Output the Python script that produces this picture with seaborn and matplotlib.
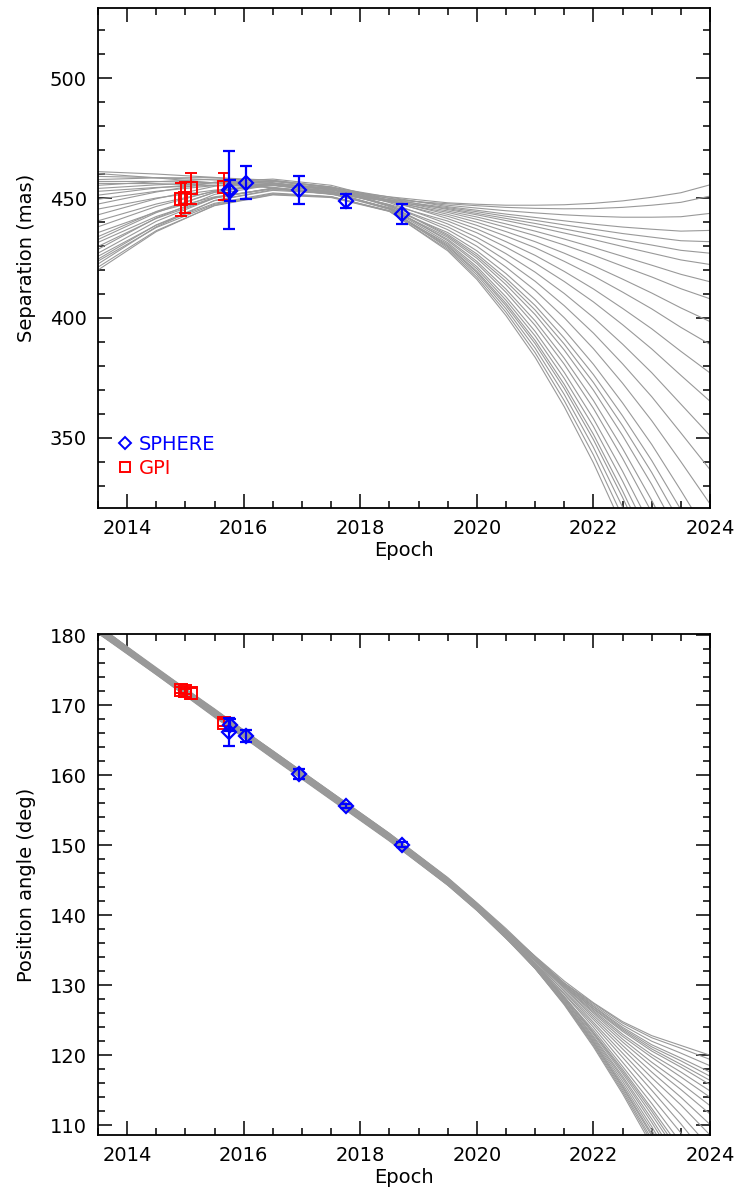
import numpy as np
import pandas as pd
import matplotlib
matplotlib.use("Agg")
import matplotlib.pyplot as plt
from matplotlib.ticker import MultipleLocator
from matplotlib.lines import Line2D
import seaborn as sns

# knots of the orbit curves (epoch, yr)
epochs = [2013.5, 2014.5, 2015.5, 2016.5, 2017.5, 2018.5, 2019.5, 2020.0,
          2020.5, 2021.0, 2021.5, 2022.0, 2022.5, 2023.0, 2023.5, 2024.0]

sep_curves = [
    [461.0, 460.0, 458.6, 456.4, 453.6, 450.5, 448.0, 447.4, 447.0, 447.0, 447.2, 447.8, 448.8, 450.3, 452.2, 455.5],
    [460.2, 458.4, 456.3, 454.2, 451.5, 449.3, 447.6, 446.8, 446.1, 445.7, 445.5, 445.6, 446.1, 447.0, 448.2, 450.8],
    [459.0, 458.5, 457.5, 456.1, 453.3, 449.9, 447.0, 445.8, 444.7, 443.8, 443.0, 442.4, 442.0, 442.0, 442.2, 443.6],
    [457.7, 458.4, 458.5, 457.4, 454.5, 450.4, 446.4, 444.9, 443.3, 441.9, 440.5, 439.1, 437.9, 437.0, 436.2, 436.5],
    [456.9, 456.9, 456.4, 455.4, 452.4, 449.2, 446.0, 444.3, 442.4, 440.7, 438.8, 437.0, 435.2, 433.7, 432.2, 431.8],
    [456.1, 456.0, 455.3, 454.5, 451.7, 448.6, 445.6, 443.6, 441.5, 439.4, 437.1, 434.8, 432.5, 430.4, 428.2, 427.0],
    [455.3, 456.8, 457.9, 457.3, 454.6, 449.8, 445.2, 443.0, 440.6, 438.1, 435.4, 432.7, 429.8, 427.0, 424.2, 422.3],
    [454.0, 455.5, 456.5, 456.2, 453.4, 449.1, 444.6, 442.1, 439.2, 436.2, 432.9, 429.4, 425.7, 422.0, 418.2, 415.1],
    [452.8, 454.4, 455.3, 455.4, 452.7, 448.5, 444.0, 441.1, 437.8, 434.3, 430.4, 426.2, 421.6, 417.1, 412.2, 408.0],
    [451.2, 454.2, 456.4, 456.9, 454.3, 449.0, 443.2, 439.9, 436.0, 431.8, 427.0, 421.8, 416.2, 410.4, 404.2, 398.5],
    [449.5, 452.8, 455.2, 456.1, 453.4, 448.4, 442.4, 438.6, 434.1, 429.3, 423.6, 417.5, 410.8, 403.8, 396.1, 389.0],
    [447.5, 452.5, 456.6, 457.9, 455.3, 449.0, 441.4, 437.1, 431.8, 426.1, 419.4, 412.1, 404.0, 395.5, 386.1, 377.1],
    [445.4, 450.0, 453.3, 455.2, 452.6, 447.3, 440.4, 435.5, 429.5, 422.9, 415.2, 406.7, 397.2, 387.1, 376.1, 365.3],
    [443.0, 449.7, 454.9, 457.1, 454.6, 448.1, 439.2, 433.6, 426.8, 419.1, 410.2, 400.2, 389.1, 377.2, 364.1, 351.0],
    [440.5, 447.5, 452.8, 455.4, 453.0, 447.0, 438.0, 431.8, 424.0, 415.3, 405.1, 393.7, 380.9, 367.2, 352.1, 336.8],
    [438.0, 446.5, 453.0, 456.1, 453.8, 447.1, 436.8, 429.9, 421.2, 411.5, 400.1, 387.2, 372.8, 357.2, 340.1, 322.5],
    [435.6, 444.2, 450.5, 453.9, 451.7, 445.9, 435.6, 428.0, 418.5, 407.7, 395.0, 380.7, 364.6, 347.3, 328.1, 308.3],
    [433.9, 444.4, 452.4, 456.0, 454.0, 446.8, 434.8, 426.7, 416.6, 405.2, 391.6, 376.4, 359.2, 340.6, 320.1, 298.8],
    [432.7, 443.9, 452.4, 456.0, 454.1, 446.8, 434.2, 425.8, 415.3, 403.3, 389.1, 373.1, 355.1, 335.6, 314.1, 291.6],
    [431.5, 442.3, 450.2, 454.0, 452.1, 445.7, 433.6, 424.9, 413.9, 401.4, 386.6, 369.9, 351.0, 330.6, 308.1, 284.5],
    [429.8, 441.5, 450.0, 454.0, 452.2, 445.7, 432.8, 423.6, 412.0, 398.8, 383.2, 365.6, 345.6, 324.0, 300.1, 275.0],
    [428.6, 441.7, 451.5, 455.5, 453.8, 446.4, 432.2, 422.7, 410.7, 396.9, 380.7, 362.3, 341.5, 319.0, 294.0, 267.9],
    [427.0, 440.3, 450.0, 454.2, 452.6, 445.7, 431.4, 421.4, 408.8, 394.4, 377.3, 358.0, 336.1, 312.4, 286.0, 258.4],
    [425.7, 438.7, 447.8, 452.1, 450.6, 444.7, 430.8, 420.5, 407.4, 392.5, 374.8, 354.8, 332.0, 307.4, 280.0, 251.3],
    [424.5, 438.8, 448.9, 453.2, 451.8, 445.3, 430.2, 419.5, 406.1, 390.6, 372.3, 351.5, 327.9, 302.4, 274.0, 244.1],
    [423.7, 437.7, 447.4, 451.8, 450.5, 444.6, 429.8, 418.9, 405.1, 389.3, 370.6, 349.3, 325.2, 299.1, 270.0, 239.4],
    [422.5, 438.0, 449.0, 453.5, 452.3, 445.4, 429.2, 418.0, 403.8, 387.4, 368.1, 346.1, 321.2, 294.1, 264.0, 232.3],
    [421.2, 436.4, 446.8, 451.3, 450.2, 444.4, 428.6, 417.0, 402.4, 385.5, 365.5, 342.9, 317.1, 289.1, 258.0, 225.1],
    [420.0, 436.0, 447.0, 451.5, 450.5, 444.5, 428.0, 416.1, 401.0, 383.6, 363.0, 339.6, 313.0, 284.1, 252.0, 218.0],
]

# position angle (deg) of the same orbits
pa_curves = [
    [180.3, 174.75, 169.1, 163.3, 157.4, 151.5, 145.2, 141.6, 137.9, 134.15, 130.6, 127.5, 124.8, 122.8, 121.4, 120.0],
    [180.3, 174.4, 168.4, 162.6, 156.7, 150.8, 144.5, 140.9, 137.2, 133.8, 130.3, 127.4, 124.6, 122.5, 121.0, 119.4],
    [180.4, 174.7, 168.9, 163.1, 157.2, 151.3, 145.0, 141.4, 137.7, 134.0, 130.3, 127.2, 124.3, 122.0, 120.3, 118.5],
    [180.4, 174.9, 169.3, 163.5, 157.6, 151.7, 145.4, 141.8, 138.1, 134.1, 130.3, 127.0, 124.0, 121.5, 119.6, 117.6],
    [180.4, 174.6, 168.6, 162.8, 156.9, 151.0, 144.7, 141.1, 137.3, 133.7, 130.1, 126.9, 123.8, 121.2, 119.2, 117.0],
    [180.4, 174.4, 168.3, 162.5, 156.6, 150.7, 144.4, 140.8, 137.0, 133.6, 130.0, 126.7, 123.6, 120.9, 118.7, 116.4],
    [180.5, 174.9, 169.2, 163.4, 157.5, 151.6, 145.3, 141.7, 137.9, 134.0, 130.1, 126.6, 123.4, 120.6, 118.3, 115.8],
    [180.5, 174.7, 168.8, 163.0, 157.1, 151.2, 144.9, 141.3, 137.5, 133.7, 129.9, 126.4, 123.0, 120.1, 117.6, 114.9],
    [180.5, 174.6, 168.5, 162.7, 156.8, 150.9, 144.6, 141.0, 137.2, 133.5, 129.8, 126.2, 122.7, 119.7, 116.9, 114.0],
    [180.6, 174.8, 169.0, 163.2, 157.3, 151.4, 145.1, 141.5, 137.7, 133.7, 129.8, 126.0, 122.3, 119.0, 116.0, 112.8],
    [180.6, 174.7, 168.8, 162.9, 157.0, 151.1, 144.7, 141.1, 137.3, 133.5, 129.6, 125.7, 121.9, 118.4, 115.1, 111.6],
    [180.7, 175.05, 169.4, 163.5, 157.6, 151.7, 145.3, 141.7, 137.9, 133.7, 129.5, 125.4, 121.4, 117.6, 114.0, 110.1],
    [180.8, 174.6, 168.5, 162.6, 156.7, 150.8, 144.4, 140.8, 137.0, 133.2, 129.2, 125.1, 120.9, 116.8, 112.9, 108.6],
    [180.8, 175.0, 169.2, 163.3, 157.4, 151.5, 145.1, 141.5, 137.6, 133.5, 129.1, 124.7, 120.3, 115.9, 111.5, 106.8],
    [180.9, 174.8, 168.7, 162.8, 156.9, 151.0, 144.6, 141.0, 137.1, 133.1, 128.8, 124.4, 119.7, 115.0, 110.2, 105.0],
    [181.0, 175.0, 169.0, 163.0, 157.1, 151.2, 144.9, 141.3, 137.4, 133.2, 128.7, 124.0, 119.0, 114.0, 108.9, 103.2],
    [181.0, 174.7, 168.4, 162.4, 156.5, 150.6, 144.3, 140.7, 136.7, 132.8, 128.3, 123.6, 118.4, 113.1, 107.5, 101.4],
    [181.1, 175.2, 169.2, 163.2, 157.3, 151.4, 145.1, 141.5, 137.5, 133.1, 128.4, 123.3, 118.0, 112.4, 106.6, 100.2],
    [181.1, 175.2, 169.3, 163.3, 157.4, 151.5, 145.2, 141.6, 137.6, 133.1, 128.3, 123.2, 117.7, 112.0, 105.9, 99.3],
    [181.2, 174.9, 168.7, 162.7, 156.8, 150.9, 144.6, 141.0, 137.0, 132.8, 128.1, 123.0, 117.4, 111.5, 105.3, 98.4],
    [181.2, 175.0, 168.9, 162.8, 156.9, 151.0, 144.7, 141.1, 137.0, 132.7, 128.0, 122.7, 117.0, 110.9, 104.4, 97.2],
    [181.3, 175.3, 169.5, 163.4, 157.5, 151.6, 145.2, 141.6, 137.6, 133.0, 128.0, 122.5, 116.7, 110.4, 103.7, 96.3],
    [181.3, 175.2, 169.2, 163.1, 157.2, 151.3, 144.9, 141.3, 137.3, 132.8, 127.8, 122.3, 116.3, 109.8, 102.8, 95.1],
    [181.3, 174.9, 168.6, 162.5, 156.6, 150.7, 144.3, 140.7, 136.7, 132.4, 127.6, 122.1, 115.9, 109.3, 102.1, 94.2],
    [181.4, 175.2, 169.1, 163.0, 157.1, 151.2, 144.8, 141.2, 137.2, 132.6, 127.6, 121.9, 115.6, 108.8, 101.5, 93.3],
    [181.4, 175.0, 168.7, 162.6, 156.7, 150.8, 144.4, 140.8, 136.8, 132.4, 127.4, 121.8, 115.4, 108.5, 101.0, 92.7],
    [181.4, 175.4, 169.4, 163.3, 157.4, 151.5, 145.1, 141.5, 137.4, 132.7, 127.5, 121.6, 115.1, 108.0, 100.3, 91.8],
    [181.5, 175.1, 168.8, 162.7, 156.8, 150.9, 144.5, 140.9, 136.8, 132.4, 127.3, 121.4, 114.8, 107.6, 99.7, 90.9],
    [181.5, 175.2, 169.0, 162.9, 157.0, 151.1, 144.7, 141.1, 137.0, 132.4, 127.2, 121.2, 114.5, 107.1, 99.0, 90.0],
]

# astrometry
sphere_t = [2015.74, 2015.76, 2016.04, 2016.95, 2017.75, 2018.71]
sphere_sep = [453.5, 453.1, 456.4, 453.3, 448.8, 443.2]
sphere_sep_err = [16.3, 4.4, 6.9, 5.8, 3.0, 4.2]
sphere_pa = [166.2, 167.2, 165.6, 160.2, 155.6, 150.1]
sphere_pa_err = [2.0, 0.8, 0.9, 0.7, 0.3, 0.4]

gpi_t = [2014.93, 2015.0, 2015.1, 2015.66]
gpi_sep = [449.5, 450.2, 454.0, 454.7]
gpi_sep_err = [6.8, 6.5, 6.4, 5.7]
gpi_pa = [172.2, 172.0, 171.7, 167.5]
gpi_pa_err = [0.4, 0.4, 0.8, 0.5]


def long_table(curves):
    rows = []
    for i, c in enumerate(curves):
        for t, v in zip(epochs, c):
            rows.append((i, t, v))
    return pd.DataFrame(rows, columns=["orbit", "epoch", "value"])


sns.set_style("ticks")
plt.rcParams["font.family"] = ["DejaVu Sans"]
plt.rcParams["font.size"] = 14
plt.rcParams["axes.linewidth"] = 1.3
for k in ["text.color", "axes.labelcolor", "xtick.color", "ytick.color", "axes.edgecolor"]:
    plt.rcParams[k] = "black"

fig = plt.figure(figsize=(7.4, 12.02), dpi=100)
ax1 = fig.add_axes([98 / 740, 1 - 508 / 1202, 612 / 740, 500 / 1202])
ax2 = fig.add_axes([98 / 740, 1 - 1135 / 1202, 612 / 740, 501 / 1202])

panels = [
    (ax1, sep_curves, sphere_sep, sphere_sep_err, gpi_sep, gpi_sep_err,
     (320.8, 529.2), 50, 10, "Separation (mas)"),
    (ax2, pa_curves, sphere_pa, sphere_pa_err, gpi_pa, gpi_pa_err,
     (108.6, 180.2), 10, 2, "Position angle (deg)"),
]

for ax, curves, s_v, s_e, g_v, g_e, ylim, ymaj, ymin, ylab in panels:
    sns.lineplot(data=long_table(curves), x="epoch", y="value", units="orbit",
                 estimator=None, color="#999999", linewidth=0.8, ax=ax,
                 legend=False)
    ax.errorbar(gpi_t, g_v, yerr=g_e, fmt="s", mfc="none", mec="red",
                ecolor="red", ms=8, mew=1.4, elinewidth=1.4, capsize=4,
                capthick=1.4, zorder=5)
    ax.errorbar(sphere_t, s_v, yerr=s_e, fmt="D", mfc="none", mec="blue",
                ecolor="blue", ms=7, mew=1.6, elinewidth=1.6, capsize=4,
                capthick=1.6, zorder=6)
    ax.set_xlim(2013.5, 2024.0)
    ax.set_ylim(*ylim)
    ax.xaxis.set_major_locator(MultipleLocator(2))
    ax.xaxis.set_minor_locator(MultipleLocator(0.5))
    ax.yaxis.set_major_locator(MultipleLocator(ymaj))
    ax.yaxis.set_minor_locator(MultipleLocator(ymin))
    ax.tick_params(which="both", direction="in", top=True, right=True,
                   width=1.1, labelsize=14)
    ax.tick_params(which="major", length=10, pad=8)
    ax.tick_params(which="minor", length=5)
    ax.set_xlabel("Epoch", fontsize=14, labelpad=2)
    ax.set_ylabel(ylab, fontsize=14, labelpad=10)

handles = [
    Line2D([], [], marker="D", ls="none", mfc="none", mec="blue", ms=6, mew=1.4),
    Line2D([], [], marker="s", ls="none", mfc="none", mec="red", ms=7, mew=1.4),
]
ax1.legend(handles, ["SPHERE", "GPI"], loc="lower left", frameon=False,
           labelcolor=["blue", "red"], fontsize=14, handletextpad=0.2,
           handlelength=1.0, labelspacing=0.25, borderaxespad=0.5,
           bbox_to_anchor=(0.0, 0.025))

fig.savefig("out.png", dpi=100)
